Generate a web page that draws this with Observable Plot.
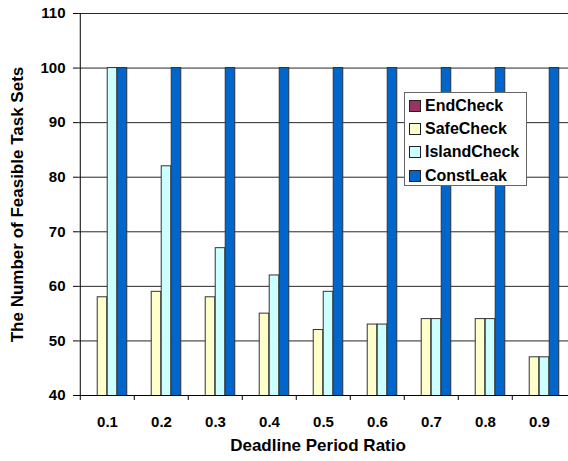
<!DOCTYPE html>
<html><head><meta charset="utf-8">
<script src="https://cdn.jsdelivr.net/npm/d3@7"></script>
<script src="https://cdn.jsdelivr.net/npm/@observablehq/plot@0.6"></script>
<style>
body{margin:0;background:#fff;font-family:"Liberation Sans",Arial,sans-serif;}
#wrap{position:relative;width:568px;height:461px;overflow:hidden;}
.legend{position:absolute;left:404px;top:92px;width:123px;height:94px;box-sizing:border-box;border:1px solid #666;background:#fff;padding:1px 0 0 4px;font-weight:bold;font-size:16px;color:#000;}
.legend .row{height:23.4px;display:flex;align-items:center;}
.legend .sw{width:10px;height:10px;border:1px solid #222;margin-right:4px;flex:none;}
</style></head>
<body>
<div id="wrap"></div>
<script>
const categories = ["0.1","0.2","0.3","0.4","0.5","0.6","0.7","0.8","0.9"];
const series = ["EndCheck","SafeCheck","IslandCheck","ConstLeak"];
const colors = ["#993366","#FFFFCC","#CCFFFF","#0066CC"];
const endCheck = [0,0,0,0,0,0,0,0,0];
const safeCheck = [58,59,58,55,52,53,54,54,47];
const islandCheck = [100,82,67,62,59,53,54,54,47];
const constLeak = [100,100,100,100,100,100,100,100,100];
const yTicks = [40,50,60,70,80,90,100,110];
const xTitle = "Deadline Period Ratio";
const yTitle = "The Number of Feasible Task Sets";

const values = [endCheck, safeCheck, islandCheck, constLeak];
const data = [];
series.forEach((s, i) => categories.forEach((c, j) => data.push({category: c, series: s, value: values[i][j]})));

const W = 568, H = 461, mL = 78, mR = 0, mT = 13, mB = 66;
const bw = (W - mL - mR) / categories.length;
const barW = 10;
const groupOff = (bw - barW * series.length) / 2;
const plotH = H - mT - mB;

const barMarks = series.map((s, i) => Plot.barY(data.filter(d => d.series === s), {
  x: "category", y: "value", fill: colors[i], stroke: "#333", strokeWidth: 1,
  insetLeft: groupOff + barW * i, insetRight: bw - (groupOff + barW * (i + 1)), clip: true
}));

const chart = Plot.plot({
  width: W, height: H, marginLeft: mL, marginRight: mR, marginTop: mT, marginBottom: mB,
  style: {fontFamily: "'Liberation Sans', Arial, sans-serif", fontSize: "15px", fontWeight: "bold", color: "#000", background: "#fff"},
  x: {domain: categories, padding: 0, axis: null},
  y: {domain: [yTicks[0], yTicks[yTicks.length - 1]], axis: null},
  marks: [
    Plot.gridY(yTicks, {stroke: "#000", strokeOpacity: 0.85}),
    ...barMarks,
    Plot.ruleY([yTicks[0]], {stroke: "#000"}),
    Plot.ruleX([categories[0]], {dx: -bw / 2, stroke: "#000"}),
    Plot.ruleX(categories, {dx: -bw / 2, insetTop: plotH, insetBottom: -5, stroke: "#000"}),
    Plot.axisY(yTicks, {tickSize: 5, tickPadding: 8, label: null}),
    Plot.axisX({tickSize: 0, tickPadding: 21, label: null}),
    Plot.text([xTitle], {text: d => d, frameAnchor: "bottom", dy: 55, dx: -5.5, fontSize: 17}),
    Plot.text([yTitle], {text: d => d, frameAnchor: "left", textAnchor: "middle", rotate: -90, dx: -61, fontSize: 17})
  ]
});
const wrap = document.getElementById("wrap");
wrap.appendChild(chart);
const leg = document.createElement("div");
leg.className = "legend";
series.forEach((s, i) => {
  const r = document.createElement("div");
  r.className = "row";
  r.innerHTML = `<span class="sw" style="background:${colors[i]}"></span><span>${s}</span>`;
  leg.appendChild(r);
});
wrap.appendChild(leg);
</script>
</body></html>
